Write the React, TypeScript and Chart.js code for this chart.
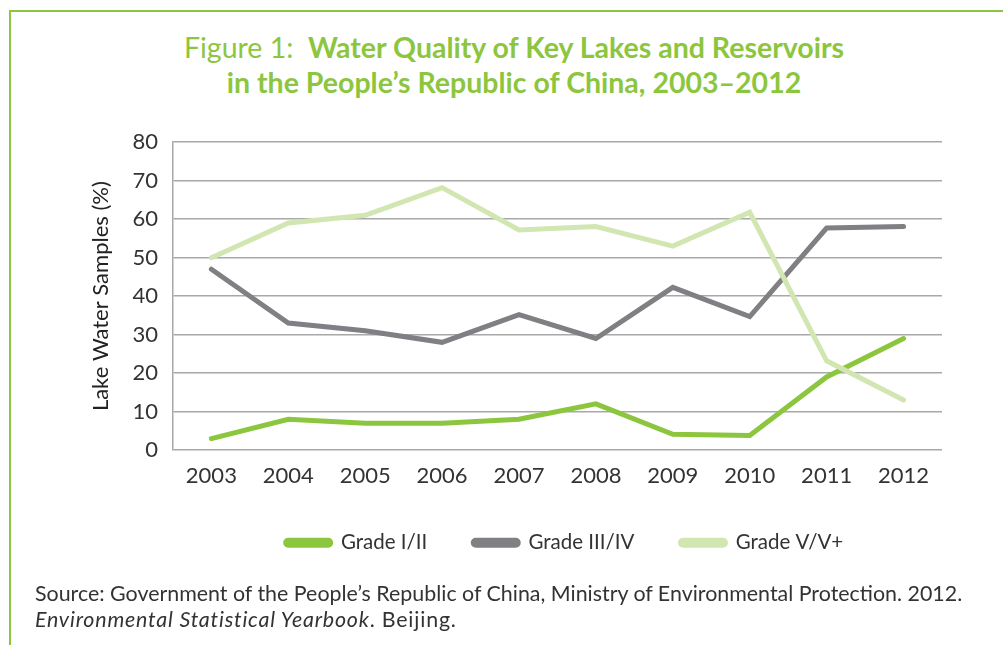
import React, { useEffect, useRef } from "react";
import { Chart, registerables } from "chart.js";

Chart.register(...registerables);

const years = ["2003", "2004", "2005", "2006", "2007", "2008", "2009", "2010", "2011", "2012"];
const gradeI_II = [3, 8, 7, 7, 8, 12, 4.1, 3.8, 19, 29];
const gradeIII_IV = [47, 33, 31, 28, 35.2, 29, 42.3, 34.7, 57.7, 58.1];
const gradeV_Vplus = [50, 59, 61, 68.2, 57.2, 58.1, 53, 61.8, 23.2, 13];
const seriesNames = ["Grade I/II", "Grade III/IV", "Grade V/V+"];
const seriesColors = ["#8cc63e", "#808084", "#d2e6b2"];
const yTicks = [0, 10, 20, 30, 40, 50, 60, 70, 80];

const GREEN = "#8cc63e";
const FONT = "Lato, 'Open Sans', sans-serif";

const legendShift = {
  id: "legendShift",
  afterLayout(chart: any) {
    const l = chart.legend;
    if (l) {
      l.top -= 16;
      l.bottom -= 16;
      l.left += 7;
      l.right += 7;
    }
  },
};

export default function App() {
  const ref = useRef<HTMLCanvasElement | null>(null);

  useEffect(() => {
    if (!ref.current) return;
    const values = [gradeI_II, gradeIII_IV, gradeV_Vplus];
    const chart = new Chart(ref.current, {
      type: "line",
      data: {
        labels: years,
        datasets: values.map((v, i) => ({
          label: seriesNames[i],
          data: v,
          borderColor: seriesColors[i],
          backgroundColor: seriesColors[i],
          borderWidth: 5,
          pointRadius: 0,
          pointHoverRadius: 0,
          tension: 0,
          borderCapStyle: "round" as const,
          order: 2 - i,
        })),
      },
      plugins: [legendShift],
      options: {
        animation: false,
        responsive: false,
        maintainAspectRatio: false,
        layout: { padding: { left: 88, right: 61, top: 0, bottom: 6 } },
        plugins: {
          tooltip: { enabled: false },
          title: { display: false },
          legend: {
            position: "bottom",
            fullSize: false,
            labels: {
              sort: (a: any, b: any) => a.datasetIndex - b.datasetIndex,
              boxWidth: 45,
              boxHeight: 5,
              useBorderRadius: true,
              borderRadius: 2.5,
              padding: 46,
              color: "#333",
              font: { family: FONT, size: 20.5 },
            },
          },
        },
        scales: {
          x: {
            offset: true,
            grid: { display: false, drawTicks: false },
            border: { display: false },
            ticks: { color: "#333", padding: 13, font: { family: FONT, size: 22 }, maxRotation: 0 },
          },
          y: {
            min: 0,
            max: 80,
            afterBuildTicks: (axis: any) => {
              axis.ticks = yTicks.map((v) => ({ value: v }));
            },
            grid: { color: "#a8a8a8", lineWidth: 1.5, drawTicks: false },
            border: { display: true, color: "#a8a8a8", width: 1.5 },
            ticks: { color: "#333", padding: 15, font: { family: FONT, size: 22 } },
            title: {
              display: true,
              text: "Lake Water Samples (%)",
              color: "#222",
              padding: { top: 0, bottom: 3 },
              font: { family: FONT, size: 22 },
            },
          },
        },
      },
    });
    return () => chart.destroy();
  }, []);

  return (
    <div style={{ position: "absolute", left: 0, top: 0, width: 1003, height: 645, background: "#fff", overflow: "hidden", fontFamily: FONT }}>
      <div style={{ position: "absolute", left: 9, top: 10, width: 1100, height: 700, borderLeft: `2px solid ${GREEN}`, borderTop: `2px solid ${GREEN}` }} />
      <div style={{ position: "absolute", left: 0, top: 30, width: 1028, textAlign: "center", color: GREEN, fontSize: 28.5, lineHeight: "35px" }}>
        <div>
          <span style={{ fontWeight: 400 }}>Figure 1:&nbsp; </span>
          <span style={{ fontWeight: 700 }}>Water Quality of Key Lakes and Reservoirs</span>
        </div>
        <div style={{ fontWeight: 700 }}>in the People’s Republic of China, 2003–2012</div>
      </div>
      <canvas ref={ref} width={1003} height={471} style={{ position: "absolute", left: 0, top: 114, width: 1003, height: 471 }} />
      <div style={{ position: "absolute", left: 35, top: 580, color: "#333", fontSize: 21.4, lineHeight: "26px" }}>
        <div>Source: Government of the People’s Republic of China, Ministry of Environmental Protection. 2012.</div>
        <div style={{ letterSpacing: "0.8px" }}>
          <i>Environmental Statistical Yearbook</i>. Beijing.
        </div>
      </div>
    </div>
  );
}
